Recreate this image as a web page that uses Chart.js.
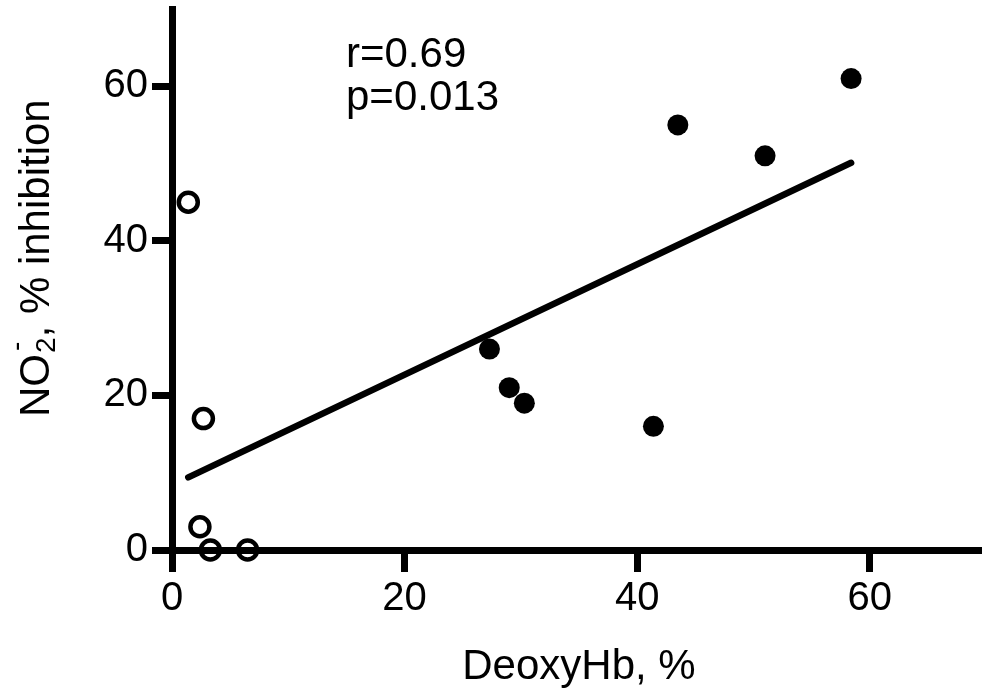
<!DOCTYPE html>
<html>
<head>
<meta charset="utf-8">
<style>
html,body{margin:0;padding:0;background:#fff;overflow:hidden;}
canvas{display:block;}
</style>
<script src="https://cdn.jsdelivr.net/npm/chart.js@4/dist/chart.umd.min.js"></script>
</head>
<body>
<canvas id="c" width="986" height="698"></canvas>
<script>
// Filled circles
const filledX = [27.3, 29.0, 30.3, 41.4, 43.5, 51.0, 58.4];
const filledY = [26, 21, 19, 16, 55, 51, 61];
// Open circles
const openX = [1.4, 2.7, 2.4, 3.3, 6.5];
const openY = [45, 17, 3, 0, 0];
// Regression line end points
const lineX = [1.4, 58.4];
const lineY = [9.4, 50.1];
// Tick labels
const xTickValues = [0, 20, 40, 60];
const xTickLabels = ['0', '20', '40', '60'];
const yTickValues = [0, 20, 40, 60];
const yTickLabels = ['0', '20', '40', '60'];
// Texts
const xTitle = 'DeoxyHb, %';
const yTitleParts = {main: 'NO', sub: '2', sup: '-', rest: ', % inhibition'};
const statLines = ['r=0.69', 'p=0.013'];

const FONT = '"Liberation Sans", Arial, Helvetica, sans-serif';

const toPts = (xs, ys) => xs.map((x, i) => ({x: x, y: ys[i]}));

const textPlugin = {
  id: 'texts',
  afterDraw(chart) {
    const ctx = chart.ctx;
    ctx.save();
    ctx.fillStyle = '#000';
    // stats text
    ctx.font = '42px ' + FONT;
    ctx.textAlign = 'left';
    ctx.textBaseline = 'alphabetic';
    ctx.fillText(statLines[0], 346, 67);
    ctx.fillText(statLines[1], 346, 110);
    // y title, rotated
    ctx.translate(49, 417);
    ctx.rotate(-Math.PI / 2);
    ctx.font = '42px ' + FONT;
    let p = 0;
    ctx.fillText(yTitleParts.main, p, 0);
    p += ctx.measureText(yTitleParts.main).width;
    ctx.font = '28px ' + FONT;
    ctx.fillText(yTitleParts.sub, p + 1, 6);
    const wSub = ctx.measureText(yTitleParts.sub).width;
    ctx.fillText(yTitleParts.sup, p + 3, -24);
    p += wSub + 1;
    ctx.font = '42px ' + FONT;
    ctx.fillText(yTitleParts.rest, p, 0);
    ctx.restore();
  }
};

new Chart(document.getElementById('c'), {
  type: 'scatter',
  data: {
    datasets: [
      {
        type: 'line',
        data: toPts(lineX, lineY),
        borderColor: '#000',
        borderWidth: 6.5,
        borderCapStyle: 'round',
        pointRadius: 0,
        fill: false,
        clip: false,
        order: 3
      },
      {
        data: toPts(filledX, filledY),
        backgroundColor: '#000',
        borderColor: '#000',
        borderWidth: 0,
        pointRadius: 10.5,
        pointHoverRadius: 10.5,
        clip: false,
        order: 1
      },
      {
        data: toPts(openX, openY),
        backgroundColor: 'rgba(0,0,0,0)',
        borderColor: '#000',
        borderWidth: 4.5,
        pointRadius: 9.5,
        pointHoverRadius: 9.5,
        clip: false,
        order: 2
      }
    ]
  },
  options: {
    responsive: false,
    animation: false,
    events: [],
    layout: {autoPadding: false, padding: {top: 9, right: 0, left: 0, bottom: 0}},
    plugins: {legend: {display: false}, tooltip: {enabled: false}},
    scales: {
      x: {
        type: 'linear',
        min: 0, max: 70,
        offset: false,
        afterFit(s) { s.height = 148; s.paddingLeft = 0; s.paddingRight = 0; },
        afterBuildTicks(s) { s.ticks = xTickValues.map(v => ({value: v})); },
        border: {display: true, color: '#000', width: 7},
        grid: {drawOnChartArea: false, drawTicks: true, tickLength: 22, tickWidth: 7, tickColor: '#000'},
        ticks: {
          color: '#000', padding: 3,
          font: {family: FONT, size: 40},
          maxRotation: 0, autoSkip: false,
          callback: (v) => xTickLabels[xTickValues.indexOf(v)]
        },
        title: {
          display: true, text: xTitle, color: '#000',
          font: {family: FONT, size: 42},
          padding: {top: 0, bottom: 5}
        }
      },
      y: {
        type: 'linear',
        min: 0, max: 70,
        afterFit(s) { s.width = 172; s.paddingTop = 0; s.paddingBottom = 0; },
        afterBuildTicks(s) { s.ticks = yTickValues.map(v => ({value: v})); },
        border: {display: true, color: '#000', width: 7},
        grid: {drawOnChartArea: false, drawTicks: true, tickLength: 20, tickWidth: 7, tickColor: '#000'},
        ticks: {
          color: '#000', padding: 4,
          font: {family: FONT, size: 40},
          autoSkip: false,
          callback: (v) => yTickLabels[yTickValues.indexOf(v)]
        }
      }
    }
  },
  plugins: [textPlugin]
});
</script>
</body>
</html>
